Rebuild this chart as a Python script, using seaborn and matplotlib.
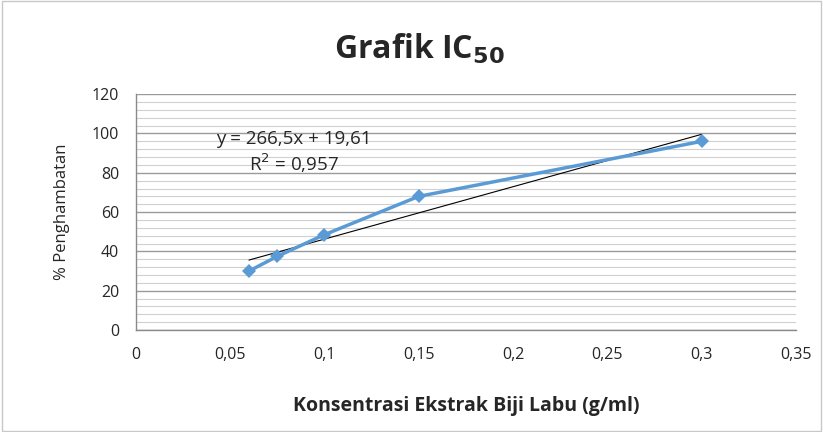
import numpy as np
import pandas as pd
import seaborn as sns
import matplotlib.pyplot as plt
from matplotlib.ticker import MultipleLocator, FuncFormatter

konsentrasi = [0.06, 0.075, 0.1, 0.15, 0.3]
hambatan = [30.0, 37.5, 48.5, 68.0, 96.0]
slope = 266.5
intercept = 19.61
r2_text = '0,957'

df = pd.DataFrame({'x': konsentrasi, 'y': hambatan})

sns.set_style('white')
plt.rcParams['font.family'] = ['Open Sans', 'DejaVu Sans']

fig = plt.figure(figsize=(8.23, 4.32), dpi=100)
ax = fig.add_axes([0.165, 0.236, 0.802, 0.546])

# grid lines (major every 20, minor every 4)
ax.yaxis.set_major_locator(MultipleLocator(20))
ax.yaxis.set_minor_locator(MultipleLocator(4))
ax.grid(True, axis='y', which='major', color='#9a9a9a', linewidth=1.0)
ax.grid(True, axis='y', which='minor', color='#d0d0d0', linewidth=0.8)
ax.set_axisbelow(True)

# trendline
xt = np.array([min(konsentrasi), max(konsentrasi)])
ax.plot(xt, slope * xt + intercept, color='black', linewidth=0.8, zorder=2)

sns.lineplot(data=df, x='x', y='y', ax=ax, color='#5b9bd5', linewidth=2.5,
             marker='D', markersize=7, markeredgewidth=0, zorder=3)

ax.set_xlim(0, 0.35)
ax.set_ylim(0, 120)
ax.xaxis.set_major_locator(MultipleLocator(0.05))
fmt = FuncFormatter(lambda v, p: ('%g' % round(v, 2)).replace('.', ','))
ax.xaxis.set_major_formatter(fmt)

for s in ['top', 'right']:
    ax.spines[s].set_visible(False)
for s in ['left', 'bottom']:
    ax.spines[s].set_color('#8a8a8a')
    ax.spines[s].set_linewidth(1.0)
ax.tick_params(axis='both', which='major', direction='out', length=5,
               color='#8a8a8a', labelsize=11.5, pad=7)
ax.tick_params(axis='y', which='minor', length=0)

ax.text(0.0838, 97.1, 'y = 266,5x + 19,61', fontsize=13.5, ha='center', va='center')
ax.text(0.0838, 84.9, 'R$^2$ = ' + r2_text, fontsize=13.5, ha='center', va='center')

ax.set_xlabel('Konsentrasi Ekstrak Biji Labu (g/ml)', fontsize=14, fontweight='bold', labelpad=24)
ax.set_ylabel('% Penghambatan', fontsize=12, labelpad=16)
fig.text(0.51, 0.885, 'Grafik IC$_{\\mathbf{50}}$', fontsize=23, fontweight='bold', ha='center', va='center')

fig.patches.append(plt.Rectangle((0.002, 0.003), 0.996, 0.994, transform=fig.transFigure,
                                 fill=False, edgecolor='#c8c8c8', linewidth=1))

fig.savefig('out.png', dpi=100)
